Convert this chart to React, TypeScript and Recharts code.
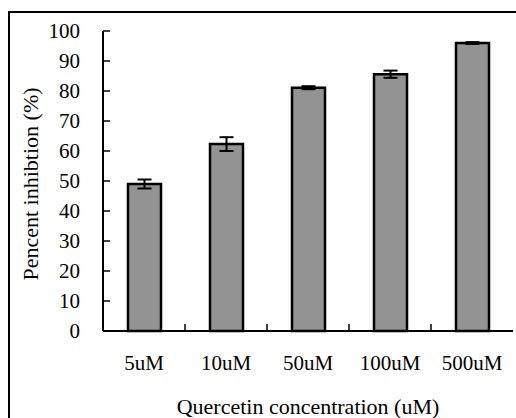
import { BarChart, Bar, XAxis, YAxis, ErrorBar, ReferenceLine } from "recharts"

const concentrations = ['5uM', '10uM', '50uM', '100uM', '500uM']
const inhibition = [49, 62.3, 81.1, 85.6, 96]
const errors = [1.5, 2.3, 0.5, 1.2, 0.3]
const yTicks = [0, 10, 20, 30, 40, 50, 60, 70, 80, 90, 100]

const data = concentrations.map((c, i) => ({ name: c, value: inhibition[i], err: errors[i] }))

const font = '"Liberation Serif", "Times New Roman", serif'

const YTitle = () => (
  <text x={38} y={184} transform="rotate(-90, 38, 184)" textAnchor="middle"
    fontFamily={font} fontSize={22} fill="#000">
    Pencent inhibtion (%)
  </text>
)

const XTitle = () => (
  <text x={308} y={414} textAnchor="middle" fontFamily={font} fontSize={22} fill="#000">
    Quercetin concentration (uM)
  </text>
)

// short inward tick at the bottom of a category boundary line
const BoundaryTick = (props: any) => {
  const bottom = Math.max(props.y1 ?? 0, props.y2 ?? 0)
  return <line x1={props.x1} x2={props.x1} y1={bottom} y2={bottom - 7} stroke="#000" strokeWidth={1.5} />
}

export default function App() {
  return (
    <div style={{ position: 'absolute', left: 0, top: 0, width: 516, height: 418, background: '#fff' }}>
      {/* frame around the whole figure */}
      <div style={{
        position: 'absolute', left: 8, top: 11, width: 520, height: 420,
        borderLeft: '2px solid #000', borderTop: '2px solid #000'
      }} />
      <div style={{ position: 'absolute', left: 0, top: 0 }}>
        <BarChart width={516} height={418} data={data}
          margin={{ top: 31, right: 3, left: 0, bottom: 0 }} barSize={33}>
          <XAxis dataKey="name" height={87} tickLine={false} tickSize={0} tickMargin={24}
            axisLine={{ stroke: '#000', strokeWidth: 2 }}
            tick={{ fill: '#000', fontFamily: font, fontSize: 21 }}
            label={<XTitle />} />
          <XAxis xAxisId="top" orientation="top" height={0} tick={false} tickLine={false}
            axisLine={{ stroke: '#888', strokeWidth: 1.5 }} />
          <YAxis domain={[0, 100]} ticks={yTicks} width={103} interval={0}
            tickSize={-7} tickMargin={30}
            tickLine={{ stroke: '#000', strokeWidth: 1.5 }}
            axisLine={{ stroke: '#000', strokeWidth: 2 }}
            tick={{ fill: '#000', fontFamily: font, fontSize: 21 }}
            label={<YTitle />} />
          <YAxis yAxisId="r" orientation="right" domain={[0, 100]} width={0}
            tick={false} tickLine={false} axisLine={{ stroke: '#888', strokeWidth: 1.5 }} />
          {concentrations.slice(1).map(c => (
            <ReferenceLine key={c} x={c} position="start" shape={<BoundaryTick />} />
          ))}
          <Bar dataKey="value" fill="#939393" stroke="#000" strokeWidth={2.5} isAnimationActive={false}>
            <ErrorBar dataKey="err" width={7} stroke="#000" strokeWidth={2} isAnimationActive={false} />
          </Bar>
        </BarChart>
      </div>
    </div>
  )
}
